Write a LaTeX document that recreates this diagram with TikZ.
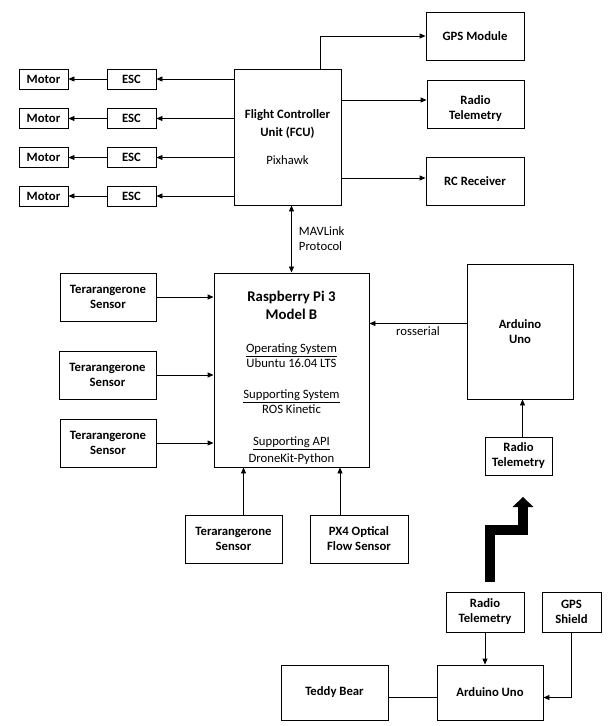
\documentclass[tikz,border=0pt]{standalone}
\usepackage{fontspec}
\setmainfont{Carlito}
\usepackage{tikz}
\usetikzlibrary{arrows.meta, positioning, calc}

\begin{document}
\begin{tikzpicture}[
  x=1pt, y=-1pt,
  blk/.style={draw, line width=0.9pt, align=center, inner sep=2pt, font=\bfseries\fontsize{12.7}{15}\selectfont},
  sz/.style 2 args={minimum width=#1, minimum height=#2},
  lbl/.style={font=\fontsize{12.7}{15}\selectfont, inner sep=3pt},
  link/.style={-{Triangle[length=6pt, width=5pt]}, line width=0.9pt},
  dlink/.style={{Triangle[length=6pt, width=5pt]}-{Triangle[length=6pt, width=5pt]}, line width=0.9pt}
]
  \useasboundingbox (0,0) rectangle (615,726);

  % Motors and ESCs
  \node[blk, sz={49pt}{20pt}] (mot1) at (43.5,79) {Motor};
  \node[blk, sz={49pt}{20pt}] (mot2) at (43.5,118.5) {Motor};
  \node[blk, sz={49pt}{20pt}] (mot3) at (43.5,157.5) {Motor};
  \node[blk, sz={49pt}{20pt}] (mot4) at (43.5,196) {Motor};
  \node[blk, sz={49pt}{20pt}] (esc1) at (131.5,79) {ESC};
  \node[blk, sz={49pt}{20pt}] (esc2) at (131.5,118.5) {ESC};
  \node[blk, sz={49pt}{20pt}] (esc3) at (131.5,157.5) {ESC};
  \node[blk, sz={49pt}{20pt}] (esc4) at (131.5,196) {ESC};

  % Flight controller and peripherals
  \node[blk, sz={107pt}{136pt}] (fcu) at (287.5,137) {Flight Controller\\[3pt]Unit (FCU)\\[13pt]{\mdseries Pixhawk}};
  \node[blk, sz={98pt}{48pt}] (gps) at (475,36) {GPS Module};
  \node[blk, sz={97pt}{48pt}] (rt1) at (475.5,104) {\rule{0pt}{17pt}Radio\\Telemetry};
  \node[blk, sz={98pt}{48pt}] (rc) at (475,181) {RC Receiver};

  % Companion computer
  \node[blk, sz={155pt}{194pt}, font=\fontsize{12.7}{15}\selectfont] (rpi) at (291.5,370) {
    \rule{0pt}{27pt}{\fontsize{14.8}{18}\selectfont\bfseries Raspberry Pi 3}\\[3pt]
    {\fontsize{14.8}{18}\selectfont\bfseries Model B}\\[18pt]
    \underline{Operating System}\\
    Ubuntu 16.04 LTS\\[16pt]
    \underline{Supporting System}\\
    ROS Kinetic\\[17pt]
    \underline{Supporting API}\\[2pt]
    DroneKit-Python};

  % Sensors
  \node[blk, sz={96pt}{48pt}] (ts1) at (108,297) {Terarangerone\\Sensor};
  \node[blk, sz={97pt}{48pt}] (ts2) at (107.5,375) {Terarangerone\\Sensor};
  \node[blk, sz={96pt}{48pt}] (ts3) at (108,443) {Terarangerone\\Sensor};
  \node[blk, sz={97pt}{48pt}] (ts4) at (233.5,539) {Terarangerone\\Sensor};
  \node[blk, sz={98pt}{48pt}] (px4) at (359,539) {PX4 Optical\\Flow Sensor};

  % Arduino side
  \node[blk, sz={106pt}{135pt}] (ard) at (520,331.5) {Arduino\\Uno};
  \node[blk, sz={67pt}{38pt}] (rt2) at (518.5,456) {Radio\\Telemetry};

  % Teddy bear unit
  \node[blk, sz={78pt}{40pt}] (rt3) at (485,612) {Radio\\Telemetry};
  \node[blk, sz={59pt}{40pt}] (gpss) at (571.5,612) {GPS\\Shield};
  \node[blk, sz={106pt}{55pt}] (ard2) at (490,692.5) {Arduino Uno};
  \node[blk, sz={107pt}{55pt}] (teddy) at (334.5,692.5) {Teddy Bear};

  % FCU to ESCs to motors
  \draw[link] (fcu.west |- esc1) -- (esc1);
  \draw[link] (fcu.west |- esc2) -- (esc2);
  \draw[link] (fcu.west |- esc3) -- (esc3);
  \draw[link] (fcu.west |- esc4) -- (esc4);
  \draw[link] (esc1) -- (mot1);
  \draw[link] (esc2) -- (mot2);
  \draw[link] (esc3) -- (mot3);
  \draw[link] (esc4) -- (mot4);

  % FCU outputs
  \draw[link] ([xshift=-21pt]fcu.north east) |- (gps);
  \draw[link] ([yshift=4pt]fcu.east |- rt1) -- ([yshift=4pt]rt1.west);
  \draw[link] ([yshift=3pt]fcu.east |- rc) -- ([yshift=3pt]rc.west);
  \draw[dlink] (rpi.north |- fcu.south) -- (rpi.north)
    node[midway, right=4pt, lbl, align=left] {MAVLink\\Protocol};

  % Sensor inputs
  \draw[link] (ts1) -- (ts1 -| rpi.west);
  \draw[link] (ts2) -- (ts2 -| rpi.west);
  \draw[link] (ts3) -- (ts3 -| rpi.west);
  \draw[link] ([xshift=10pt]ts4.north) -- ([xshift=10pt]ts4.north |- rpi.south);
  \draw[link] ([xshift=-19pt]px4.north) -- ([xshift=-19pt]px4.north |- rpi.south);

  % Arduino links
  \draw[link] ([yshift=8pt]ard.west) -- ([yshift=8pt]ard.west -| rpi.east)
    node[midway, below, lbl] {rosserial};
  \draw[link] ([xshift=4pt]rt2.north) -- ([xshift=4pt]rt2.north |- ard.south);

  % Wireless link
  \coordinate (wlo) at (490,582);
  \coordinate (whi) at (523,497);
  \draw[line width=10pt, -{Triangle[length=10pt, width=21pt, line width=0pt]}] (wlo) -- ++(0,-52) -| (whi);

  % Teddy bear unit links
  \draw[link] (rt3.south) -- (rt3.south |- ard2.north);
  \draw[link] (gpss.south) |- ([yshift=-5pt]ard2.east);
  \draw[line width=0.9pt] ([yshift=-5pt]teddy.east) -- ([yshift=-5pt]ard2.west);
\end{tikzpicture}
\end{document}
